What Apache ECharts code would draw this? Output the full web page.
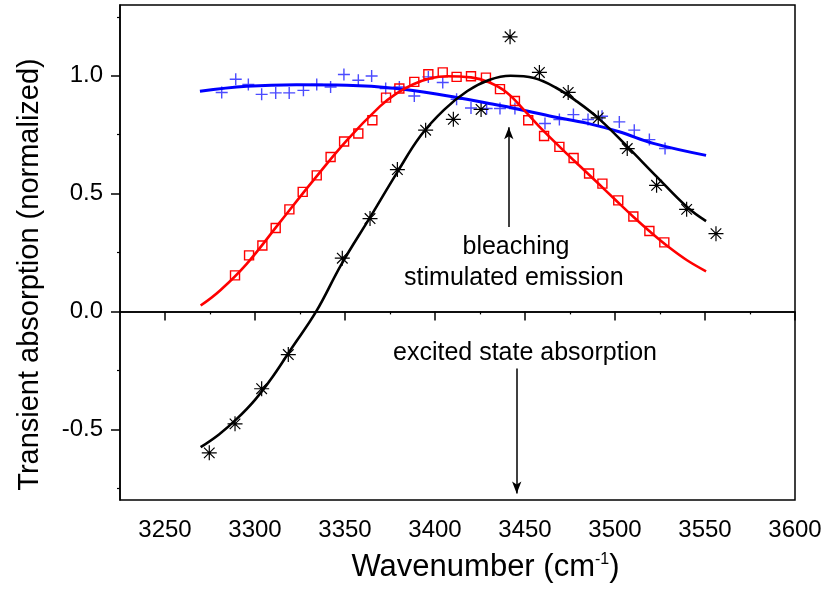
<!DOCTYPE html>
<html>
<head>
<meta charset="utf-8">
<script src="https://cdn.jsdelivr.net/npm/echarts@6/dist/echarts.min.js"></script>
<style>
  html, body { margin: 0; padding: 0; background: #fff; }
  #chart { width: 836px; height: 591px; }
</style>
</head>
<body>
<div id="chart"></div>
<script>
// Measured points (wavenumber in cm-1, normalized transient absorption)
const blueX = [3281.5, 3289.3, 3296.3, 3303.7, 3311.5, 3319, 3326.9, 3334.3, 3342, 3349.4, 3357.4, 3364.8, 3372.6, 3380.2, 3388.5, 3396.3, 3404.3, 3412, 3420, 3428.7, 3436.1, 3444.4, 3461.1, 3469.1, 3476.9, 3485, 3492.8, 3502.4, 3510.7, 3519.1, 3527.8];
const blueY = [0.929, 0.985, 0.963, 0.921, 0.927, 0.927, 0.938, 0.963, 0.952, 1.005, 0.981, 0.999, 0.946, 0.952, 0.914, 0.995, 0.971, 0.900, 0.863, 0.861, 0.861, 0.861, 0.797, 0.814, 0.835, 0.814, 0.828, 0.804, 0.769, 0.729, 0.691];

const redX = [3288.9, 3296.7, 3304.1, 3311.5, 3319.1, 3326.5, 3334.3, 3342, 3349.5, 3357.4, 3365.2, 3372.8, 3380.2, 3388.5, 3396.3, 3404.3, 3412, 3420, 3428.3, 3436.1, 3444.4, 3451.8, 3460.6, 3469.1, 3477, 3485.6, 3493, 3501.8, 3510.2, 3519.1, 3527.4];
const redY = [0.153, 0.238, 0.280, 0.354, 0.433, 0.507, 0.577, 0.655, 0.721, 0.755, 0.811, 0.907, 0.946, 0.974, 1.006, 1.014, 0.995, 0.998, 0.992, 0.943, 0.893, 0.811, 0.744, 0.698, 0.651, 0.585, 0.542, 0.471, 0.403, 0.341, 0.293];

const blackX = [3274.6, 3288.9, 3303.7, 3318.5, 3348.5, 3363.9, 3379.1, 3394.8, 3410.2, 3425.6, 3441.7, 3458, 3474, 3490.7, 3506.8, 3523.1, 3539.8, 3556.1];
const blackY = [-0.600, -0.477, -0.328, -0.183, 0.226, 0.394, 0.602, 0.769, 0.815, 0.857, 1.165, 1.014, 0.929, 0.821, 0.691, 0.535, 0.433, 0.330];

// Fitted curves
const blueFitX = [3269.4, 3295.4, 3323.1, 3351, 3378.7, 3406.5, 3428.7, 3447, 3465.7, 3484.3, 3502.8, 3521.3, 3550.6];
const blueFitY = [0.934, 0.955, 0.962, 0.960, 0.946, 0.915, 0.884, 0.857, 0.826, 0.799, 0.761, 0.713, 0.662];

const redFitX = [3269.8, 3280.6, 3295.4, 3313.9, 3332.4, 3351, 3369.4, 3378.7, 3388, 3397.2, 3406.5, 3420, 3430, 3440, 3450, 3460, 3470, 3480, 3490, 3500, 3510, 3520, 3530, 3540, 3550.6];
const redFitY = [0.025, 0.089, 0.202, 0.379, 0.556, 0.726, 0.870, 0.925, 0.964, 0.988, 0.998, 0.993, 0.972, 0.928, 0.850, 0.768, 0.693, 0.620, 0.548, 0.475, 0.403, 0.335, 0.272, 0.217, 0.170];

const blackFitX = [3269.8, 3280, 3290, 3300, 3310, 3320, 3334, 3348, 3364, 3379, 3392, 3405, 3418, 3430, 3442, 3455, 3467, 3479, 3491, 3507, 3523, 3540, 3550.6];
const blackFitY = [-0.576, -0.522, -0.455, -0.375, -0.275, -0.160, 0.0, 0.200, 0.400, 0.590, 0.745, 0.855, 0.935, 0.982, 1.0, 0.990, 0.950, 0.890, 0.818, 0.698, 0.573, 0.443, 0.383];

// Axis ticks
const xMajorTicks = [3250, 3300, 3350, 3400, 3450, 3500, 3550, 3600];
const xMinorTicks = [3275, 3325, 3375, 3425, 3475, 3525, 3575];
const yMajorTicks = [-0.5, 0.0, 0.5, 1.0];
const yMinorTicks = [-0.75, -0.25, 0.25, 0.75, 1.25];

// Annotations: [x, y, text]
const noteLabels = [
  [3445, 0.274, 'bleaching'],
  [3443.8, 0.140, 'stimulated emission'],
  [3450, -0.178, 'excited state absorption']
];
// Arrows: [x, yFrom, yTo]
const noteArrows = [
  [3441, 0.358, 0.781],
  [3445.4, -0.242, -0.772]
];

const zip = (xs, ys) => xs.map((x, i) => [x, ys[i]]);

const FONT = '"Liberation Sans", Arial, sans-serif';
const starPath = 'path://M0,-10L0,10M-10,0L10,0M-7.07,-7.07L7.07,7.07M-7.07,7.07L7.07,-7.07';
const plusPath = 'path://M-10,0L10,0M0,-10L0,10';

const xRange = { min: 3225, max: 3600 };
const yRange = { min: -0.8, max: 1.3 };

const chart = echarts.init(document.getElementById('chart'), null, { renderer: 'canvas' });

const option = {
  animation: false,
  backgroundColor: '#fff',
  grid: {
    left: 120, right: 41, top: 5, bottom: 91,
    show: true, borderColor: '#000', borderWidth: 1.5, backgroundColor: 'transparent'
  },
  xAxis: [
    {
      type: 'value', ...xRange, position: 'bottom',
      name: '{t|Wavenumber (cm}{s|-1}{t|)}',
      nameLocation: 'middle', nameGap: 52,
      nameTextStyle: {
        padding: [0, 0, 0, 56],
        rich: {
          t: { fontFamily: FONT, fontSize: 31, color: '#000' },
          s: { fontFamily: FONT, fontSize: 16, color: '#000', verticalAlign: 'top', padding: [0, 0, 15, 0] }
        }
      },
      axisLine: { show: true, lineStyle: { color: '#000', width: 1.5 } },
      axisTick: { show: true, inside: false, length: 9, customValues: xMajorTicks, lineStyle: { color: '#000', width: 1.5 } },
      axisLabel: {
        show: true, customValues: xMajorTicks, margin: 18, fontFamily: FONT, fontSize: 24, color: '#000',
        formatter: v => String(v)
      },
      splitLine: { show: false }
    },
    {
      type: 'value', ...xRange, position: 'bottom',
      axisLine: { show: false },
      axisTick: { show: true, inside: false, length: 3, customValues: xMinorTicks, lineStyle: { color: '#000', width: 1.2 } },
      axisLabel: { show: false },
      splitLine: { show: false }
    }
  ],
  yAxis: [
    {
      type: 'value', ...yRange, position: 'left',
      name: 'Transient absorption (normalized)',
      nameLocation: 'middle', nameGap: 76, nameRotate: 90,
      nameTextStyle: { fontFamily: FONT, fontSize: 29, color: '#000', padding: [0, 44, 0, 0] },
      axisLine: { show: true, lineStyle: { color: '#000', width: 1.5 } },
      axisTick: { show: true, inside: false, length: 9, customValues: yMajorTicks, lineStyle: { color: '#000', width: 1.5 } },
      axisLabel: {
        show: true, customValues: yMajorTicks, margin: 17, fontFamily: FONT, fontSize: 24, color: '#000',
        formatter: v => v.toFixed(1)
      },
      splitLine: { show: false }
    },
    {
      type: 'value', ...yRange, position: 'left',
      axisLine: { show: false },
      axisTick: { show: true, inside: false, length: 3, customValues: yMinorTicks, lineStyle: { color: '#000', width: 1.2 } },
      axisLabel: { show: false },
      splitLine: { show: false }
    }
  ],
  series: [
    {
      name: 'zero', type: 'line', data: [], silent: true,
      markLine: {
        silent: true, symbol: ['none', 'none'], label: { show: false },
        lineStyle: { color: '#000', width: 1.5, type: 'solid' },
        data: [{ yAxis: 0 }]
      }
    },
    {
      name: 'blue points', type: 'scatter', data: zip(blueX, blueY),
      symbol: plusPath, symbolSize: 12,
      itemStyle: { color: 'transparent', borderColor: '#2b2bff', borderWidth: 1.4, opacity: 0.85 }
    },
    {
      name: 'red points', type: 'scatter', data: zip(redX, redY),
      symbol: 'rect', symbolSize: 9,
      itemStyle: { color: 'transparent', borderColor: '#ff0000', borderWidth: 1.4, opacity: 1 }
    },
    {
      name: 'black points', type: 'scatter', data: zip(blackX, blackY),
      symbol: starPath, symbolSize: 15,
      itemStyle: { color: 'transparent', borderColor: '#000', borderWidth: 1.2, opacity: 1 }
    },
    {
      name: 'blue fit', type: 'line', data: zip(blueFitX, blueFitY), smooth: 0.4,
      showSymbol: false, lineStyle: { color: '#0000ff', width: 3 }
    },
    {
      name: 'red fit', type: 'line', data: zip(redFitX, redFitY), smooth: 0.4,
      showSymbol: false, lineStyle: { color: '#ff0000', width: 2.6 }
    },
    {
      name: 'black fit', type: 'line', data: zip(blackFitX, blackFitY), smooth: 0.4,
      showSymbol: false, lineStyle: { color: '#000', width: 2.6 }
    },
    {
      name: 'notes', type: 'scatter', symbolSize: 0, silent: true,
      data: noteLabels.map(n => ({ value: [n[0], n[1]], label: { formatter: n[2] } })),
      itemStyle: { color: '#000', opacity: 1 },
      label: {
        show: true, position: [0, 0], align: 'center', verticalAlign: 'middle', opacity: 1,
        fontFamily: FONT, fontSize: 25, color: '#000', textBorderWidth: 0, textBorderColor: 'transparent'
      },
      markLine: {
        silent: true, symbol: ['none', 'arrow'], symbolSize: [7, 12],
        label: { show: false },
        lineStyle: { color: '#000', width: 1.5, type: 'solid' },
        data: noteArrows.map(a => [{ coord: [a[0], a[1]] }, { coord: [a[0], a[2]] }])
      }
    }
  ]
};

chart.setOption(option);
</script>
</body>
</html>
